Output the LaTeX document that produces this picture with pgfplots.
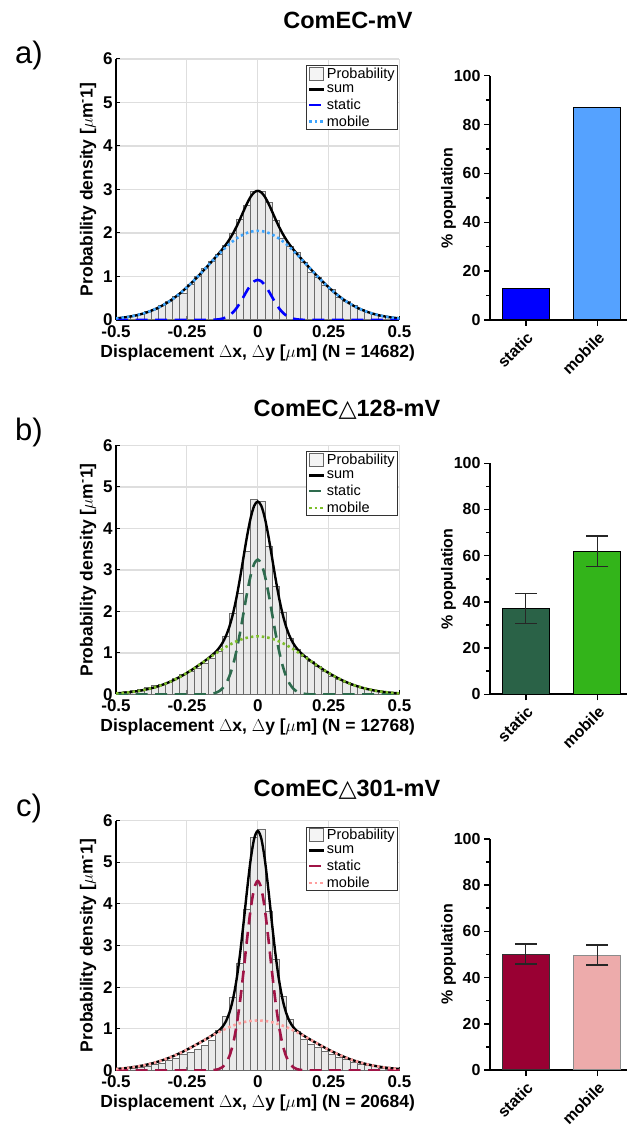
\documentclass[border=0pt]{standalone}
\usepackage{fontspec}
\setmainfont{Liberation Sans}
\newfontfamily\dejavu{DejaVu Sans}
\usepackage{pgfplots}
\pgfplotsset{compat=1.18}
\definecolor{aS}{HTML}{0000FF}\definecolor{aM}{HTML}{3DA5FF}
\definecolor{bS}{HTML}{2E6B4E}\definecolor{bM}{HTML}{7DBE2A}
\definecolor{cS}{HTML}{A01446}\definecolor{cM}{HTML}{FF9E9E}
\definecolor{aSb}{HTML}{0000FF}\definecolor{aMb}{HTML}{55A2FF}
\definecolor{bSb}{HTML}{2A6247}\definecolor{bMb}{HTML}{33B41A}
\definecolor{cSb}{HTML}{990033}\definecolor{cMb}{HTML}{EDABAB}
\newcommand{\tri}{{\dejavu △}}
\pgfplotsset{
  hist/.style={
    scale only axis, width=283.5pt,
    xmin=-0.5, xmax=0.5, ymin=0, ymax=6,
    axis lines*=left,
    axis line style={line width=1.6pt, black},
    xtick={-0.5,-0.25,0,0.25,0.5},
    xticklabels={-0.5,-0.25,0,0.25,0.5},
    ytick={0,1,2,3,4,5,6},
    grid=major,
    major grid style={line width=1.2pt, color=black!13},
    tick align=inside, major tick length=4pt,
    tick style={black, line width=1pt},
    tick label style={font=\bfseries\fontsize{17}{17}\selectfont},
    x tick label style={yshift=-2pt},
    /pgf/number format/assume math mode=true,
    label style={font=\bfseries\fontsize{17.5}{18}\selectfont},
    ylabel={Probability density [$\mu$m\textsuperscript{-}1]},
    legend style={at={(rel axis cs:0.993,0.976)}, anchor=north east,
      draw=black!80, line width=0.8pt, fill=white,
      font=\fontsize{14.5}{15}\selectfont, inner sep=1pt, row sep=3.2pt,
      nodes={inner ysep=0.8pt, inner xsep=1.5pt}},
    legend cell align=left,
  },
  histbars/.style={ybar interval, fill=black!15, fill opacity=0.55, draw=black!58, line width=0.6pt,
    legend image code/.code={\draw[fill=black!8, draw=black!60, line width=0.6pt] (0pt,-6pt) rectangle (14pt,7pt);}},
  linelegend/.style={legend image code/.code={\draw[##1] (0pt,0pt) -- (15pt,0pt);}},
  sumline/.style={black, line width=2.4pt, smooth, linelegend},
  statline/.style={line width=2.6pt, dash pattern=on 12pt off 7.5pt, smooth, linelegend},
  mobline/.style={line width=2.6pt, dash pattern=on 2.5pt off 3pt, smooth, linelegend},
  barc/.style={
    scale only axis, width=137.3pt,
    xmin=-0.5, xmax=1.42, ymin=0, ymax=100,
    axis lines*=left,
    axis line style={line width=1.8pt},
    xtick={0,1}, xticklabels={static,mobile},
    ytick={0,20,40,60,80,100}, minor ytick={10,30,50,70,90},
    tick align=outside, major tick length=6pt, minor tick length=4pt,
    tick style={black, line width=1.5pt},
    x tick label style={rotate=45, anchor=north east, font=\bfseries\fontsize{16}{16}\selectfont},
    y tick label style={font=\bfseries\fontsize{16}{16}\selectfont},
    /pgf/number format/assume math mode=true,
    ylabel={\% population}, ylabel style={font=\bfseries\fontsize{16}{16}\selectfont},
    ylabel shift=-9pt,
    ybar, bar width=47pt,
  },
  bars/.style={ybar, bar shift=0pt, draw=black, line width=1pt,
    error bars/y dir=both, error bars/y explicit,
    error bars/error bar style={line width=1.3pt, black!85},
    error bars/error mark options={rotate=90, mark size=11pt, line width=1.3pt, black!85}},
}
\begin{document}
\begin{tikzpicture}
\path[use as bounding box] (0pt,0pt) rectangle (627pt,1129pt);
% ---------------- titles and panel labels
\node[font=\bfseries\fontsize{23.5}{24}\selectfont] at (348pt,1109pt) {ComEC-mV};
\node[font=\bfseries\fontsize{23.5}{24}\selectfont] at (347pt,719pt) {ComEC\tri128-mV};
\node[font=\bfseries\fontsize{23.5}{24}\selectfont] at (347pt,339pt) {ComEC\tri301-mV};
\node[font=\fontsize{31}{31}\selectfont] at (29pt,1074pt) {a)};
\node[font=\fontsize{31}{31}\selectfont] at (29pt,697pt) {b)};
\node[font=\fontsize{31}{31}\selectfont] at (29pt,321pt) {c)};

% ---------------- panel a histogram
\begin{axis}[hist, at={(116pt,809pt)}, anchor=south west, height=261pt,
  xlabel={Displacement $\Delta$x, $\Delta$y [$\mu$m] (N = 14682)}]
\addplot[histbars] coordinates {(-0.5,0.05) (-0.475,0.08) (-0.45,0.11) (-0.425,0.13) (-0.4,0.19) (-0.375,0.24) (-0.35,0.34) (-0.325,0.42) (-0.3,0.55) (-0.275,0.62) (-0.25,0.82) (-0.225,1.00) (-0.2,1.19) (-0.175,1.36) (-0.15,1.52) (-0.125,1.72) (-0.1,2.00) (-0.075,2.31) (-0.05,2.64) (-0.025,2.96) (0,2.95) (0.025,2.70) (0.05,2.30) (0.075,1.87) (0.1,1.70) (0.125,1.55) (0.15,1.33) (0.175,1.10) (0.2,0.99) (0.225,0.80) (0.25,0.70) (0.275,0.53) (0.3,0.43) (0.325,0.33) (0.35,0.25) (0.375,0.18) (0.4,0.13) (0.425,0.09) (0.45,0.06) (0.475,0.04) (0.5,0.04)};
\addlegendentry{Probability}
\addplot[sumline] coordinates {(-0.5,0.037) (-0.475,0.055) (-0.45,0.079) (-0.425,0.112) (-0.4,0.157) (-0.375,0.214) (-0.35,0.286) (-0.325,0.375) (-0.3,0.482) (-0.275,0.608) (-0.25,0.751) (-0.225,0.908) (-0.2,1.078) (-0.175,1.253) (-0.15,1.435) (-0.1375,1.528) (-0.125,1.626) (-0.1125,1.732) (-0.1,1.851) (-0.0875,1.988) (-0.075,2.144) (-0.0625,2.319) (-0.05,2.504) (-0.0375,2.682) (-0.025,2.833) (-0.0125,2.934) (0,2.97) (0.0125,2.934) (0.025,2.833) (0.0375,2.682) (0.05,2.504) (0.0625,2.319) (0.075,2.144) (0.0875,1.988) (0.1,1.851) (0.1125,1.732) (0.125,1.626) (0.1375,1.528) (0.15,1.435) (0.175,1.253) (0.2,1.078) (0.225,0.908) (0.25,0.751) (0.275,0.608) (0.3,0.482) (0.325,0.375) (0.35,0.286) (0.375,0.214) (0.4,0.157) (0.425,0.112) (0.45,0.079) (0.475,0.055) (0.5,0.037)};
\addlegendentry{sum}
\addplot[statline, aS] coordinates {(-0.5,0) (-0.45,0) (-0.4,0) (-0.35,0) (-0.3,0) (-0.25,0) (-0.2,0) (-0.175,0) (-0.15,0.007) (-0.1375,0.015) (-0.125,0.031) (-0.1125,0.059) (-0.1,0.105) (-0.0875,0.175) (-0.075,0.271) (-0.0625,0.394) (-0.05,0.535) (-0.0375,0.678) (-0.025,0.803) (-0.0125,0.889) (0,0.92) (0.0125,0.889) (0.025,0.803) (0.0375,0.678) (0.05,0.535) (0.0625,0.394) (0.075,0.271) (0.0875,0.175) (0.1,0.105) (0.1125,0.059) (0.125,0.031) (0.1375,0.015) (0.15,0.007) (0.175,0) (0.2,0) (0.25,0) (0.3,0) (0.35,0) (0.4,0) (0.45,0) (0.5,0)};
\addlegendentry{static}
\addplot[mobline, aM] coordinates {(-0.5,0.037) (-0.475,0.055) (-0.45,0.079) (-0.425,0.112) (-0.4,0.157) (-0.375,0.214) (-0.35,0.286) (-0.325,0.375) (-0.3,0.482) (-0.275,0.608) (-0.25,0.751) (-0.225,0.908) (-0.2,1.078) (-0.175,1.253) (-0.15,1.428) (-0.125,1.595) (-0.1,1.746) (-0.075,1.873) (-0.05,1.969) (-0.025,2.030) (0,2.05) (0.025,2.030) (0.05,1.969) (0.075,1.873) (0.1,1.746) (0.125,1.595) (0.15,1.428) (0.175,1.253) (0.2,1.078) (0.225,0.908) (0.25,0.751) (0.275,0.608) (0.3,0.482) (0.325,0.375) (0.35,0.286) (0.375,0.214) (0.4,0.157) (0.425,0.112) (0.45,0.079) (0.475,0.055) (0.5,0.037)};
\addlegendentry{mobile}
\end{axis}

% ---------------- panel b histogram
\begin{axis}[hist, at={(116pt,434.5pt)}, anchor=south west, height=249pt,
  xlabel={Displacement $\Delta$x, $\Delta$y [$\mu$m] (N = 12768)}]
\addplot[histbars] coordinates {(-0.5,0.04) (-0.475,0.07) (-0.45,0.10) (-0.425,0.12) (-0.4,0.17) (-0.375,0.21) (-0.35,0.24) (-0.325,0.30) (-0.3,0.40) (-0.275,0.48) (-0.25,0.55) (-0.225,0.64) (-0.2,0.75) (-0.175,0.88) (-0.15,1.05) (-0.125,1.41) (-0.1,1.95) (-0.075,2.45) (-0.05,3.45) (-0.025,4.70) (0,4.65) (0.025,3.58) (0.05,2.60) (0.075,1.98) (0.1,1.36) (0.125,1.10) (0.15,0.92) (0.175,0.80) (0.2,0.68) (0.225,0.56) (0.25,0.45) (0.275,0.36) (0.3,0.30) (0.325,0.23) (0.35,0.18) (0.375,0.13) (0.4,0.10) (0.425,0.07) (0.45,0.05) (0.475,0.04) (0.5,0.04)};
\addlegendentry{Probability}
\addplot[sumline] coordinates {(-0.5,0.027) (-0.475,0.039) (-0.45,0.057) (-0.425,0.080) (-0.4,0.111) (-0.375,0.151) (-0.35,0.201) (-0.325,0.262) (-0.3,0.336) (-0.275,0.422) (-0.25,0.520) (-0.225,0.628) (-0.2,0.744) (-0.175,0.869) (-0.15,1.016) (-0.1375,1.112) (-0.125,1.236) (-0.1125,1.405) (-0.1,1.635) (-0.0875,1.943) (-0.075,2.336) (-0.0625,2.804) (-0.05,3.317) (-0.0375,3.822) (-0.025,4.254) (-0.0125,4.547) (0,4.65) (0.0125,4.547) (0.025,4.254) (0.0375,3.822) (0.05,3.317) (0.0625,2.804) (0.075,2.336) (0.0875,1.943) (0.1,1.635) (0.1125,1.405) (0.125,1.236) (0.1375,1.112) (0.15,1.016) (0.175,0.869) (0.2,0.744) (0.225,0.628) (0.25,0.520) (0.275,0.422) (0.3,0.336) (0.325,0.262) (0.35,0.201) (0.375,0.151) (0.4,0.111) (0.425,0.080) (0.45,0.057) (0.475,0.039) (0.5,0.027)};
\addlegendentry{sum}
\addplot[statline, bS] coordinates {(-0.5,0) (-0.45,0) (-0.4,0) (-0.35,0) (-0.3,0) (-0.25,0) (-0.2,0.001) (-0.175,0.007) (-0.15,0.036) (-0.1375,0.074) (-0.125,0.143) (-0.1125,0.259) (-0.1,0.440) (-0.0875,0.703) (-0.075,1.055) (-0.0625,1.488) (-0.05,1.971) (-0.0375,2.453) (-0.025,2.868) (-0.0125,3.150) (0,3.25) (0.0125,3.150) (0.025,2.868) (0.0375,2.453) (0.05,1.971) (0.0625,1.488) (0.075,1.055) (0.0875,0.703) (0.1,0.440) (0.1125,0.259) (0.125,0.143) (0.1375,0.074) (0.15,0.036) (0.175,0.007) (0.2,0.001) (0.25,0) (0.3,0) (0.35,0) (0.4,0) (0.45,0) (0.5,0)};
\addlegendentry{static}
\addplot[mobline, bM] coordinates {(-0.5,0.027) (-0.475,0.039) (-0.45,0.057) (-0.425,0.080) (-0.4,0.111) (-0.375,0.151) (-0.35,0.201) (-0.325,0.262) (-0.3,0.336) (-0.275,0.422) (-0.25,0.520) (-0.225,0.628) (-0.2,0.743) (-0.175,0.862) (-0.15,0.980) (-0.125,1.093) (-0.1,1.195) (-0.075,1.281) (-0.05,1.346) (-0.025,1.386) (0,1.4) (0.025,1.386) (0.05,1.346) (0.075,1.281) (0.1,1.195) (0.125,1.093) (0.15,0.980) (0.175,0.862) (0.2,0.743) (0.225,0.628) (0.25,0.520) (0.275,0.422) (0.3,0.336) (0.325,0.262) (0.35,0.201) (0.375,0.151) (0.4,0.111) (0.425,0.080) (0.45,0.057) (0.475,0.039) (0.5,0.027)};
\addlegendentry{mobile}
\end{axis}

% ---------------- panel c histogram
\begin{axis}[hist, at={(116pt,58.5pt)}, anchor=south west, height=250pt,
  xlabel={Displacement $\Delta$x, $\Delta$y [$\mu$m] (N = 20684)}]
\addplot[histbars] coordinates {(-0.5,0.03) (-0.475,0.05) (-0.45,0.06) (-0.425,0.08) (-0.4,0.11) (-0.375,0.14) (-0.35,0.18) (-0.325,0.24) (-0.3,0.30) (-0.275,0.38) (-0.25,0.44) (-0.225,0.52) (-0.2,0.60) (-0.175,0.72) (-0.15,0.96) (-0.125,1.30) (-0.1,1.76) (-0.075,2.58) (-0.05,3.87) (-0.025,5.60) (0,5.80) (0.025,3.82) (0.05,2.66) (0.075,1.78) (0.1,1.23) (0.125,0.94) (0.15,0.76) (0.175,0.64) (0.2,0.56) (0.225,0.46) (0.25,0.38) (0.275,0.31) (0.3,0.26) (0.325,0.20) (0.35,0.15) (0.375,0.12) (0.4,0.09) (0.425,0.06) (0.45,0.04) (0.475,0.03) (0.5,0.03)};
\addlegendentry{Probability}
\addplot[sumline] coordinates {(-0.5,0.036) (-0.475,0.051) (-0.45,0.070) (-0.425,0.096) (-0.4,0.128) (-0.375,0.167) (-0.35,0.216) (-0.325,0.273) (-0.3,0.340) (-0.275,0.416) (-0.25,0.500) (-0.225,0.591) (-0.2,0.685) (-0.175,0.783) (-0.15,0.890) (-0.1375,0.955) (-0.125,1.044) (-0.1125,1.178) (-0.1,1.387) (-0.0875,1.708) (-0.075,2.173) (-0.0625,2.795) (-0.05,3.545) (-0.0375,4.341) (-0.025,5.062) (-0.0125,5.567) (0,5.75) (0.0125,5.567) (0.025,5.062) (0.0375,4.341) (0.05,3.545) (0.0625,2.795) (0.075,2.173) (0.0875,1.708) (0.1,1.387) (0.1125,1.178) (0.125,1.044) (0.1375,0.955) (0.15,0.890) (0.175,0.783) (0.2,0.685) (0.225,0.591) (0.25,0.500) (0.275,0.416) (0.3,0.340) (0.325,0.273) (0.35,0.216) (0.375,0.167) (0.4,0.128) (0.425,0.096) (0.45,0.070) (0.475,0.051) (0.5,0.036)};
\addlegendentry{sum}
\addplot[statline, cS] coordinates {(-0.5,0) (-0.45,0) (-0.4,0) (-0.35,0) (-0.3,0) (-0.25,0) (-0.2,0) (-0.175,0.002) (-0.15,0.014) (-0.1375,0.034) (-0.125,0.080) (-0.1125,0.173) (-0.1,0.344) (-0.0875,0.630) (-0.075,1.064) (-0.0625,1.659) (-0.05,2.386) (-0.0375,3.164) (-0.025,3.872) (-0.0125,4.370) (0,4.55) (0.0125,4.370) (0.025,3.872) (0.0375,3.164) (0.05,2.386) (0.0625,1.659) (0.075,1.064) (0.0875,0.630) (0.1,0.344) (0.1125,0.173) (0.125,0.080) (0.1375,0.034) (0.15,0.014) (0.175,0.002) (0.2,0) (0.25,0) (0.3,0) (0.35,0) (0.4,0) (0.45,0) (0.5,0)};
\addlegendentry{static}
\addplot[mobline, cM] coordinates {(-0.5,0.036) (-0.475,0.051) (-0.45,0.070) (-0.425,0.096) (-0.4,0.128) (-0.375,0.167) (-0.35,0.216) (-0.325,0.273) (-0.3,0.340) (-0.275,0.416) (-0.25,0.500) (-0.225,0.591) (-0.2,0.685) (-0.175,0.781) (-0.15,0.876) (-0.125,0.964) (-0.1,1.043) (-0.075,1.109) (-0.05,1.159) (-0.025,1.190) (0,1.2) (0.025,1.190) (0.05,1.159) (0.075,1.109) (0.1,1.043) (0.125,0.964) (0.15,0.876) (0.175,0.781) (0.2,0.685) (0.225,0.591) (0.25,0.500) (0.275,0.416) (0.3,0.340) (0.325,0.273) (0.35,0.216) (0.375,0.167) (0.4,0.128) (0.425,0.096) (0.45,0.070) (0.475,0.051) (0.5,0.036)};
\addlegendentry{mobile}
\end{axis}

% ---------------- bar charts
\begin{axis}[barc, at={(490pt,809pt)}, anchor=south west, height=244.3pt]
\addplot[bars, fill=aSb] coordinates {(0,12.9)};
\addplot[bars, fill=aMb] coordinates {(1,87.1)};
\end{axis}
\begin{axis}[barc, at={(490pt,434.7pt)}, anchor=south west, height=231pt]
\addplot[bars, fill=bSb] coordinates {(0,37.1) += (0,6.6) -= (0,6.5)};
\addplot[bars, fill=bMb] coordinates {(1,62.0) += (0,6.5) -= (0,6.8)};
\end{axis}
\begin{axis}[barc, at={(490pt,59pt)}, anchor=south west, height=231.2pt]
\addplot[bars, fill=cSb, draw=black!80] coordinates {(0,50.1) += (0,4.4) -= (0,4.3)};
\addplot[bars, fill=cMb, draw=black!45] coordinates {(1,49.6) += (0,4.4) -= (0,4.2)};
\end{axis}
\end{tikzpicture}
\end{document}
